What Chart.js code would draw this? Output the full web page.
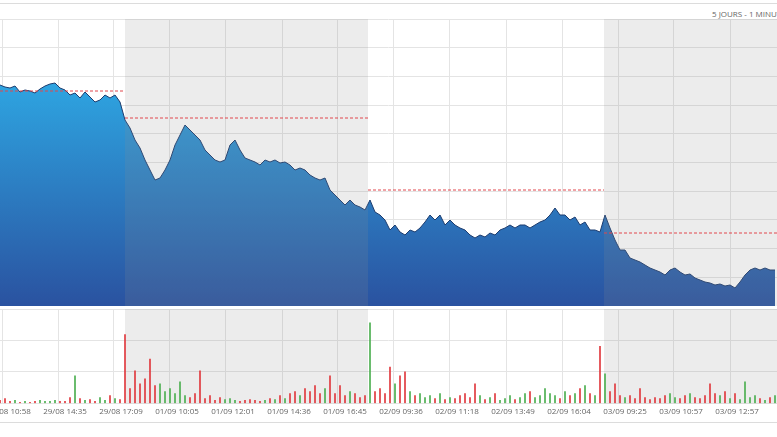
<!DOCTYPE html>
<html><head><meta charset="utf-8">
<script src="https://cdn.jsdelivr.net/npm/chart.js@4/dist/chart.umd.min.js"></script>
<style>
html,body{margin:0;padding:0;background:#fff;width:777px;height:437px;overflow:hidden;font-family:"Open Sans",sans-serif}
#top{position:absolute;left:0;top:3px;width:777px;height:1px;background:#dcdcdc}
#bot{position:absolute;left:0;top:422px;width:777px;height:1px;background:#dcdcdc}
#ttl{position:absolute;left:712px;top:8px;font-size:8px;color:#666;white-space:nowrap}
#pw{position:absolute;left:0;top:19px;width:777px;height:287px}
#vw{position:absolute;left:0;top:309px;width:777px;height:112px}
</style></head><body>
<div id="top"></div><div id="bot"></div><div id="ttl">5 JOURS - 1 MINUTE</div>
<div id="pw"><canvas id="pc"></canvas></div>
<div id="vw"><canvas id="vc"></canvas></div>
<script>
const prices=[221,219,218,220,214,216,215,213,217,220,222,223,218,216,211,213,208,214,209,204,206,211,208,211,204,
186,178,166,158,146,136,126,128,136,146,161,171,181,176,171,166,156,151,146,144,146,161,166,156,148,146,144,141,146,144,146,143,144,141,136,138,136,131,128,126,128,116,111,106,101,106,101,99,96,
106,94,91,86,76,81,74,71,76,74,78,84,91,86,91,81,86,81,78,76,71,68,71,69,73,71,76,78,81,78,81,81,78,81,84,86,91,98,91,91,86,89,81,84,76,76,74,
91,78,66,56,56,48,46,44,41,38,36,34,31,36,38,34,31,32,28,26,24,23,21,22,20,21,18,24,31,36,38,36,38,36,36];
const volumes=[3,5,2,3,1,2,1,2,3,2,2,3,2,2,6,28,5,3,4,2,6,3,8,5,4,
70,15,33,20,25,45,18,20,12,15,10,22,8,6,10,33,5,8,3,6,4,5,3,2,3,4,3,2,3,5,4,8,5,10,12,8,15,12,18,10,15,28,10,18,8,12,10,6,8,
82,12,15,10,37,20,28,32,12,8,10,6,8,5,10,4,6,5,8,10,6,20,8,4,6,10,3,5,8,4,6,10,12,6,8,15,10,8,5,12,8,10,15,18,10,8,58,
30,12,20,8,6,8,5,15,6,4,6,5,8,10,6,5,8,10,6,5,8,20,10,8,12,5,10,4,22,6,8,5,3,6,8];
const sessionStarts=[0,25,73.6,120.8];
const sessionEnds=[25,73.6,120.8,155.4];
const prevClose=[215,188,116,73];
const tickLabels=["29/08 10:58","29/08 14:35","29/08 17:09","01/09 10:05","01/09 12:01","01/09 14:36","01/09 16:45","02/09 09:36","02/09 11:18","02/09 13:49","02/09 16:04","03/09 09:25","03/09 10:57","03/09 12:57"];
const tickPos=tickLabels.map((l,k)=>0.4+11.2*k);
const XMAX=155.4;
const grid='#e4e4e4';
function bands(ch){const {ctx,chartArea:a,scales:{x}}=ch;ctx.save();ctx.fillStyle='rgba(140,140,140,0.17)';
 [1,3].forEach(i=>{const l=x.getPixelForValue(sessionStarts[i]),r=x.getPixelForValue(sessionEnds[i]);ctx.fillRect(l,a.top,r-l,a.bottom-a.top);});ctx.restore();}
const xBase={type:'linear',min:0,max:XMAX,offset:false,afterBuildTicks:s=>{s.ticks=tickPos.map(v=>({value:v}));},
 afterFit:s=>{s.paddingLeft=0;s.paddingRight=0;},
 grid:{color:grid,drawTicks:false,offset:false},border:{display:false}};
const priceDs={data:prices.map((v,i)=>({x:i,y:v})),borderColor:'#1d3c6e',borderWidth:1,pointRadius:0,tension:0,order:2,fill:'start',
 backgroundColor:c=>{const a=c.chart.chartArea;if(!a)return '#2a7cc4';const g=c.chart.ctx.createLinearGradient(0,a.top+60,0,a.bottom);g.addColorStop(0,'#2ea6e2');g.addColorStop(1,'#2a52a0');return g;}};
const dashDs=prevClose.map((v,i)=>({data:[{x:sessionStarts[i],y:v},{x:sessionEnds[i],y:v}],borderColor:'#e0474c',borderWidth:1,borderDash:[3,2],pointRadius:0,order:1,fill:false}));
new Chart(document.getElementById('pc'),{type:'line',data:{datasets:[priceDs,...dashDs]},
 options:{responsive:true,maintainAspectRatio:false,animation:false,layout:{padding:0},plugins:{legend:{display:false},tooltip:{enabled:false}},
 scales:{x:{...xBase,ticks:{display:false}},y:{min:0,max:287,ticks:{display:false,count:11},grid:{color:grid,drawTicks:false},border:{display:false}}}},
 plugins:[{id:'b',afterDatasetDraw:(ch,args)=>{if(args.index===0)bands(ch);}}]});
const volColors=volumes.map((v,i)=>i>0&&prices[i]>=prices[i-1]?'#4caf50':'#e0393e');
new Chart(document.getElementById('vc'),{type:'bar',data:{datasets:[{data:volumes.map((v,i)=>({x:i,y:v})),backgroundColor:volColors,barThickness:1}]},
 options:{responsive:true,maintainAspectRatio:false,animation:false,layout:{padding:0},plugins:{legend:{display:false},tooltip:{enabled:false}},
 scales:{x:{...xBase,ticks:{autoSkip:false,maxRotation:0,padding:4,labelOffset:7,color:'#666',font:{size:8,family:'Open Sans'},callback:(v,i)=>tickLabels[i]}},
 y:{min:0,max:96,ticks:{display:false,stepSize:32},grid:{color:grid,drawTicks:false},border:{display:false}}}},
 plugins:[{id:'b',beforeDatasetsDraw:ch=>bands(ch)}]});
</script></body></html>
